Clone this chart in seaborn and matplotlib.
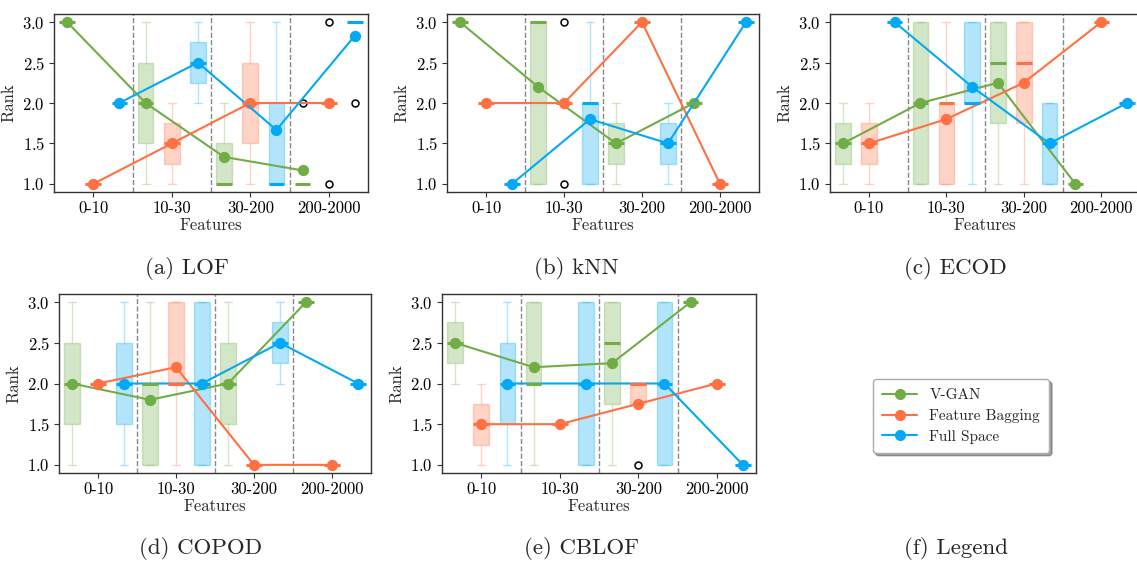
import numpy as np
import pandas as pd
import matplotlib
matplotlib.use("Agg")
import matplotlib.pyplot as plt
import seaborn as sns
from matplotlib.lines import Line2D

# ---------------- data ----------------
CATEGORIES = ["0-10", "10-30", "30-200", "200-2000"]
METHODS = ["V-GAN", "Feature Bagging", "Full Space"]
COLORS = ["#70AD47", "#FF7043", "#03A9F4"]

# per-dataset ranks, one list per feature category
LOF_VGAN = [[3, 3], [1, 2, 3], [1, 1, 2], [1, 1, 1, 1, 1, 2]]
LOF_FB = [[1, 1], [1, 2], [1, 2, 3], [1, 2, 2, 2, 2, 3]]
LOF_FS = [[2, 2], [2, 3], [1, 1, 3], [2, 3, 3, 3, 3, 3]]

KNN_VGAN = [[3, 3], [1, 1, 3, 3, 3], [1, 2], [2, 2]]
KNN_FB = [[2, 2], [1, 2, 2, 2, 3], [3, 3], [1, 1]]
KNN_FS = [[1, 1], [1, 1, 2, 2, 3], [1, 2], [3, 3]]

ECOD_VGAN = [[1, 2], [1, 1, 2, 3, 3], [1, 2, 3, 3], [1, 1]]
ECOD_FB = [[1, 2], [1, 1, 2, 2, 3], [1, 2, 3, 3], [3, 3]]
ECOD_FS = [[3, 3], [1, 2, 2, 3, 3], [1, 1, 2, 2], [2, 2]]

COPOD_VGAN = [[1, 3], [1, 1, 2, 2, 3], [1, 3], [3, 3]]
COPOD_FB = [[2, 2], [1, 2, 2, 3, 3], [1, 1], [1, 1]]
COPOD_FS = [[1, 3], [1, 1, 2, 3, 3], [2, 3], [2, 2]]

CBLOF_VGAN = [[2, 3], [1, 2, 2, 3, 3], [1, 2, 3, 3], [3, 3]]
CBLOF_FB = [[1, 2], [1.5, 1.5], [1, 2, 2, 2], [2, 2]]
CBLOF_FS = [[1, 3], [1, 1, 2, 3, 3], [1, 1, 3, 3], [1, 1]]

CAPTIONS = ["(a) LOF", "(b) kNN", "(c) ECOD", "(d) COPOD", "(e) CBLOF", "(f) Legend"]
Y_TICKS = [1.0, 1.5, 2.0, 2.5, 3.0]

PANELS = [
    (LOF_VGAN, LOF_FB, LOF_FS),
    (KNN_VGAN, KNN_FB, KNN_FS),
    (ECOD_VGAN, ECOD_FB, ECOD_FS),
    (COPOD_VGAN, COPOD_FB, COPOD_FS),
    (CBLOF_VGAN, CBLOF_FB, CBLOF_FS),
]


def to_frame(series_list):
    rows = []
    for m, series in zip(METHODS, series_list):
        for c, vals in zip(CATEGORIES, series):
            for v in vals:
                rows.append((c, m, v))
    return pd.DataFrame(rows, columns=["Features", "Method", "Rank"])


# ---------------- style ----------------
sns.set_style("ticks")
plt.rcParams["font.family"] = ["cmr10", "DejaVu Serif"]
plt.rcParams["mathtext.fontset"] = "cm"
plt.rcParams["axes.formatter.use_mathtext"] = True
plt.rcParams["axes.edgecolor"] = "#333333"
plt.rcParams["axes.linewidth"] = 1.0
plt.rcParams["xtick.color"] = "#333333"
plt.rcParams["ytick.color"] = "#333333"
plt.rcParams["xtick.labelcolor"] = "black"
plt.rcParams["ytick.labelcolor"] = "black"

PALETTE = dict(zip(METHODS, COLORS))

fig = plt.figure(figsize=(11.37, 5.63), dpi=100)
W, H = 1137.0, 563.0
# axes rectangles in pixels: left, top, right, bottom
RECTS = [
    (54, 14, 368, 192),
    (447, 14, 759, 192),
    (830, 14, 1140, 192),
    (59, 294, 371, 473),
    (442, 294, 756, 473),
]
CAP_POS = [(187, 269), (576, 269), (955, 269), (201, 549), (582, 549), (956, 549)]


def draw(ax, df):
    for m, col in zip(METHODS, COLORS):
        sub = df[df["Method"] == m]
        sns.boxplot(
            data=sub, x="Features", y="Rank", hue="Method",
            order=CATEGORIES, hue_order=METHODS, palette=PALETTE,
            width=1.0, gap=0.4, dodge=True, saturation=1,
            linecolor=col, linewidth=1.0, legend=False, ax=ax,
            boxprops=dict(alpha=0.3),
            whiskerprops=dict(alpha=0.3),
            capprops=dict(alpha=0.3),
            medianprops=dict(linewidth=2.2, alpha=1.0),
            flierprops=dict(marker="o", markeredgecolor="black",
                            markerfacecolor="none", markersize=5,
                            markeredgewidth=1.1),
        )
    sns.pointplot(
        data=df, x="Features", y="Rank", hue="Method",
        order=CATEGORIES, hue_order=METHODS, palette=PALETTE,
        dodge=2 / 3, errorbar=None, markers="o", markersize=7,
        linewidth=1.5, legend=False, ax=ax,
    )
    for b in np.arange(0.5, len(CATEGORIES) - 1, 1.0):
        ax.axvline(b, color="#888888", linestyle="--", linewidth=1.0, zorder=0.5)
    ax.set_xlim(-0.5, len(CATEGORIES) - 0.5)
    ax.set_ylim(0.9, 3.1)
    ax.set_yticks(Y_TICKS)
    ax.set_xticks(range(len(CATEGORIES)))
    ax.set_xticklabels(CATEGORIES)
    ax.tick_params(labelsize=12, length=3.5, width=0.8, pad=3)
    ax.set_xlabel("Features", fontsize=12, labelpad=1)
    ax.set_ylabel("Rank", fontsize=12, labelpad=4)
    for s in ax.spines.values():
        s.set_visible(True)


for (l, t, r, b), series in zip(RECTS, PANELS):
    ax = fig.add_axes([l / W, 1 - b / H, (r - l) / W, (b - t) / H])
    draw(ax, to_frame(series))

for txt, (x, y) in zip(CAPTIONS, CAP_POS):
    fig.text(x / W, 1 - y / H, txt, ha="center", va="center", fontsize=16.5)

handles = [
    Line2D([0], [0], color=c, marker="o", markersize=7, linewidth=1.5)
    for c in COLORS
]
leg = fig.legend(
    handles, METHODS, loc="center", bbox_to_anchor=(961 / W, 1 - 416 / H),
    fontsize=11, frameon=True, fancybox=True, shadow=True,
    handlelength=2.3, borderpad=0.6, labelspacing=0.45,
)
leg.get_frame().set_edgecolor("#aaaaaa")

fig.savefig("out.png", dpi=100)
